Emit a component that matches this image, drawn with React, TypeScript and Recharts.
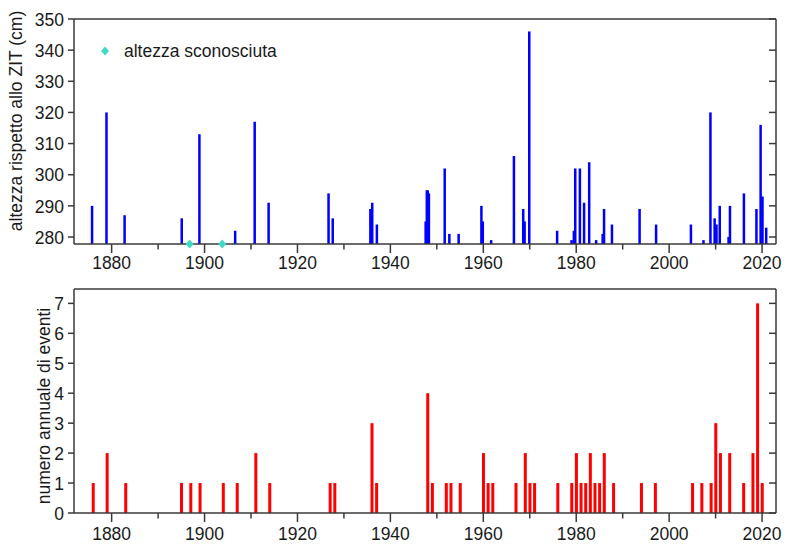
import React from 'react';
import { ComposedChart, Bar, Scatter, XAxis, YAxis, Legend } from 'recharts';

// ---------- data ----------
const yearTicks = [1880, 1890, 1900, 1910, 1920, 1930, 1940, 1950, 1960, 1970, 1980, 1990, 2000, 2010, 2020];
const majorYears = [1880, 1900, 1920, 1940, 1960, 1980, 2000, 2020];
const heightTicks = [280, 290, 300, 310, 320, 330, 340, 350];
const countTicks = [0, 1, 2, 3, 4, 5, 6, 7];

// top panel: event dates (decimal years) and peak heights (cm above ZIT)
const eventDates = [
  1875.8, 1878.9, 1882.8, 1895.1, 1898.9, 1906.6, 1910.8, 1913.8,
  1926.7, 1927.6, 1935.7, 1936.1, 1937.1,
  1947.6, 1947.85, 1948.05, 1948.3, 1951.7, 1952.7, 1954.7,
  1959.6, 1959.9, 1961.7, 1966.6, 1968.6, 1968.9, 1969.9,
  1975.9, 1979.0, 1979.5, 1979.8, 1980.8, 1981.7, 1982.8, 1984.3,
  1985.7, 1986.0, 1987.7, 1993.65, 1997.2,
  2004.7, 2007.4, 2008.9, 2009.8, 2010.2, 2010.9, 2012.8, 2013.1,
  2016.1, 2018.8, 2019.7, 2020.1, 2020.9,
];
const eventHeights = [
  290, 320, 287, 286, 313, 282, 317, 291,
  294, 286, 289, 291, 284,
  285, 295, 295, 294, 302, 281, 281,
  290, 285, 279, 306, 289, 285, 346,
  282, 279, 282, 302, 302, 291, 304, 279,
  281, 289, 284, 289, 284,
  284, 279, 320, 286, 284, 290, 280, 290,
  294, 289, 316, 293, 283,
];
const unknownDates = [1896.8, 1903.8];
const unknownLevel = 277.75;

// bottom panel: number of events per year
const countYears = [
  1876, 1879, 1883, 1895, 1897, 1899, 1904, 1907, 1911, 1914,
  1927, 1928, 1936, 1937, 1948, 1949, 1952, 1953, 1955,
  1960, 1961, 1962, 1967, 1969, 1970, 1971,
  1976, 1979, 1980, 1981, 1982, 1983, 1984, 1985, 1986, 1988,
  1994, 1997, 2005, 2007, 2009, 2010, 2011, 2013, 2016, 2018, 2019, 2020,
];
const eventCounts = [
  1, 2, 1, 1, 1, 1, 1, 1, 2, 1,
  1, 1, 3, 1, 4, 1, 1, 1, 1,
  2, 1, 1, 1, 2, 1, 1,
  1, 1, 2, 1, 1, 2, 1, 1, 2, 1,
  1, 1, 1, 1, 1, 3, 2, 2, 1, 2, 7, 1,
];

const topTitle = 'altezza rispetto allo ZIT (cm)';
const bottomTitle = 'numero annuale di eventi';
const unknownLabel = 'altezza sconosciuta';

// ---------- derived tables ----------
const topData = eventDates.map((d, i) => ({ date: d, h: eventHeights[i] }));
const unknownData = unknownDates.map((d) => ({ date: d, h: unknownLevel }));
const bottomData = countYears.map((y, i) => ({ date: y, n: eventCounts[i] }));

// ---------- styling ----------
const FONT = '"Liberation Sans", Arial, Helvetica, sans-serif';
const AXIS = '#3a3a3a';
const TXT = '#1a1a1a';
const FS = 17.5;
const X_DOMAIN: [number, number] = [1871.9, 2023];

const makeBar = (w: number, fill: string) => (props: any) => {
  const { x, y, width, height } = props;
  if (x == null || y == null || !isFinite(x) || !isFinite(height)) return <g />;
  const c = x + width / 2;
  return <rect x={c - w / 2} y={y} width={w} height={Math.max(height, 0)} fill={fill} />;
};

const Diamond = (props: any) => {
  const { cx, cy } = props;
  if (cx == null || cy == null) return <g />;
  return (
    <polygon
      points={`${cx},${cy - 4.5} ${cx + 4},${cy} ${cx},${cy + 4.5} ${cx - 4},${cy}`}
      fill="#3fd9c8"
    />
  );
};

const Nothing = () => <g />;

const makeXTick = (gap: number) => (props: any) => {
  const { x, y, payload } = props;
  const major = majorYears.includes(payload.value);
  return (
    <g>
      <line x1={x} x2={x} y1={y} y2={y + (major ? 9 : 5.5)} stroke={AXIS} strokeWidth={1.5} />
      {major && (
        <text x={x} y={y + gap} dy="0.71em" textAnchor="middle" fontSize={FS} fill={TXT} fontFamily={FONT}>
          {payload.value}
        </text>
      )}
    </g>
  );
};

const LeftTick = (props: any) => {
  const { x, y, payload } = props;
  return (
    <g>
      <line x1={x - 6} x2={x} y1={y} y2={y} stroke={AXIS} strokeWidth={1.5} />
      <text x={x - 10} y={y} dy="0.38em" textAnchor="end" fontSize={FS} fill={TXT} fontFamily={FONT}>
        {payload.value}
      </text>
    </g>
  );
};

// right axis: x is the plot edge
const RightTick = (props: any) => {
  const { x, y } = props;
  return <line x1={x - 7} x2={x} y1={y} y2={y} stroke={AXIS} strokeWidth={1.5} />;
};

const Title = (props: any) => {
  const { cx, cy, text } = props;
  return (
    <text
      x={cx}
      y={cy}
      dy="0.35em"
      textAnchor="middle"
      transform={`rotate(-90, ${cx}, ${cy})`}
      fontSize={FS}
      fill={TXT}
      fontFamily={FONT}
    >
      {text}
    </text>
  );
};

const LegendContent = (props: any) => {
  const items = (props.payload || []).filter((p: any) => p.value === unknownLabel);
  return (
    <div style={{ fontFamily: FONT, fontSize: FS, color: TXT }}>
      {items.map((p: any) => (
        <div key={p.value} style={{ display: 'flex', alignItems: 'center', whiteSpace: 'nowrap' }}>
          <svg width={16} height={16} style={{ display: 'block' }}>
            <polygon points="8,3.5 12,8 8,12.5 4,8" fill="#3fd9c8" />
          </svg>
          <span style={{ marginLeft: 11, lineHeight: '16px' }}>{p.value}</span>
        </div>
      ))}
    </div>
  );
};

export default function App() {
  return (
    <div style={{ position: 'absolute', left: 0, top: 0, width: 790, height: 547, background: '#fff' }}>
      <ComposedChart
        width={790}
        height={280}
        data={topData}
        margin={{ top: 18, right: 13, bottom: 0, left: 0 }}
      >
        <XAxis
          dataKey="date"
          type="number"
          domain={X_DOMAIN}
          ticks={yearTicks}
          interval={0}
          height={36}
          tickSize={0}
          tickMargin={0}
          tickLine={false}
          tick={makeXTick(12.5)}
          axisLine={{ stroke: AXIS, strokeWidth: 1.5 }}
        />
        <XAxis
          xAxisId="top"
          orientation="top"
          dataKey="date"
          type="number"
          domain={X_DOMAIN}
          height={1}
          tick={false}
          tickLine={false}
          axisLine={{ stroke: AXIS, strokeWidth: 1.5 }}
        />
        <YAxis
          type="number"
          domain={[unknownLevel, 350]}
          ticks={heightTicks}
          interval={0}
          width={74}
          tickSize={0}
          tickMargin={0}
          tickLine={false}
          tick={LeftTick}
          axisLine={{ stroke: AXIS, strokeWidth: 1.5 }}
          label={<Title cx={16} cy={121} text={topTitle} />}
        />
        <YAxis
          yAxisId="right"
          orientation="right"
          type="number"
          domain={[unknownLevel, 350]}
          ticks={heightTicks}
          interval={0}
          width={1}
          tickSize={0}
          tickMargin={0}
          tickLine={false}
          tick={RightTick}
          axisLine={{ stroke: AXIS, strokeWidth: 1.5 }}
        />
        <Bar
          dataKey="h"
          name="altezza"
          legendType="none"
          barSize={2.5}
          fill="#0000ff"
          shape={makeBar(2.5, '#0000ff')}
          isAnimationActive={false}
        />
        <Scatter
          data={unknownData}
          dataKey="h"
          name={unknownLabel}
          fill="#3fd9c8"
          shape={Diamond}
          isAnimationActive={false}
        />
        <Scatter
          data={topData}
          dataKey="h"
          xAxisId="top"
          yAxisId="right"
          name="frame"
          legendType="none"
          shape={Nothing}
          isAnimationActive={false}
        />
        <Legend
          layout="vertical"
          align="center"
          verticalAlign="middle"
          wrapperStyle={{ position: 'absolute', top: 43, left: 97, width: 'auto', height: 'auto' }}
          content={LegendContent}
        />
      </ComposedChart>
      <ComposedChart
        width={790}
        height={267}
        data={bottomData}
        margin={{ top: 8, right: 13, bottom: 0, left: 0 }}
      >
        <XAxis
          dataKey="date"
          type="number"
          domain={X_DOMAIN}
          ticks={yearTicks}
          interval={0}
          height={34}
          tickSize={0}
          tickMargin={0}
          tickLine={false}
          tick={makeXTick(14.5)}
          axisLine={{ stroke: AXIS, strokeWidth: 1.5 }}
        />
        <XAxis
          xAxisId="top"
          orientation="top"
          dataKey="date"
          type="number"
          domain={X_DOMAIN}
          height={1}
          tick={false}
          tickLine={false}
          axisLine={{ stroke: AXIS, strokeWidth: 1.5 }}
        />
        <YAxis
          type="number"
          domain={[0, 7.48]}
          ticks={countTicks}
          interval={0}
          width={74}
          tickSize={0}
          tickMargin={0}
          tickLine={false}
          tick={LeftTick}
          axisLine={{ stroke: AXIS, strokeWidth: 1.5 }}
          label={<Title cx={44} cy={126} text={bottomTitle} />}
        />
        <YAxis
          yAxisId="right"
          orientation="right"
          type="number"
          domain={[0, 7.48]}
          ticks={countTicks}
          interval={0}
          width={1}
          tickSize={0}
          tickMargin={0}
          tickLine={false}
          tick={RightTick}
          axisLine={{ stroke: AXIS, strokeWidth: 1.5 }}
        />
        <Bar
          dataKey="n"
          name="eventi"
          barSize={3}
          fill="#ff0000"
          shape={makeBar(3, '#ff0000')}
          isAnimationActive={false}
        />
        <Scatter
          dataKey="n"
          xAxisId="top"
          yAxisId="right"
          name="frame"
          legendType="none"
          shape={Nothing}
          isAnimationActive={false}
        />
      </ComposedChart>
    </div>
  );
}
